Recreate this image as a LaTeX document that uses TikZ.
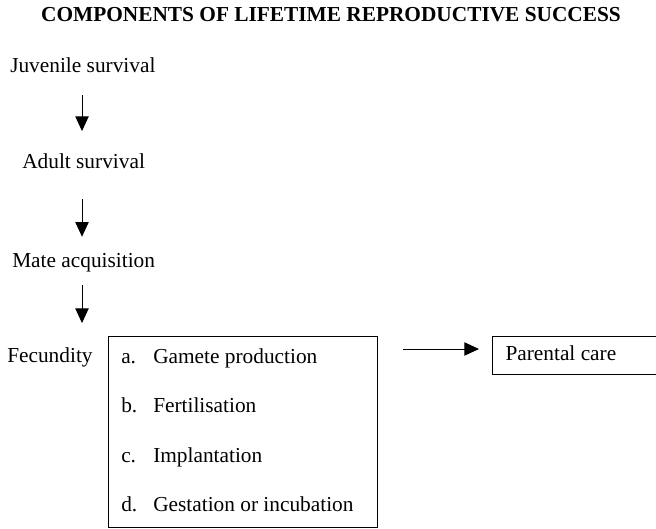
\documentclass[tikz,border=0pt]{standalone}
\usepackage{fontspec}
\setmainfont{Liberation Serif}
\usetikzlibrary{arrows.meta, positioning}

\begin{document}
\begin{tikzpicture}[
    x=0.75pt, y=-0.75pt,
    font=\fontsize{16}{19}\selectfont,
    label/.style={draw=none, inner sep=0pt, anchor=base west,
    text height=11pt, text depth=3pt},
    item/.style={draw=none, inner sep=0pt,
    text height=11pt, text depth=3pt},
    frame/.style={draw, line width=0.75pt, inner sep=0pt},
    arr/.style={-{Triangle[length=11pt, width=10pt]}, line width=0.75pt}
    ]
    \useasboundingbox (0,0) rectangle (656,528);

    \node[anchor=base, inner sep=0pt, font=\fontsize{16}{19}\selectfont\bfseries]
        (title) at (331,22) {COMPONENTS OF LIFETIME REPRODUCTIVE SUCCESS};

    \node[label]  (juv)   at (10,73)  {Juvenile survival};
    \node[label]  (adult) at (22,168) {Adult survival};
    \node[label]  (mate)  at (12,267) {Mate acquisition};
    \node[label]  (fec)   at (7,362)  {Fecundity};

    % box of fecundity parts
    \node[frame, anchor=north west, minimum width=201.75pt, minimum height=143.25pt]
        (fecbox) at (108,336) {};
    \node[item, anchor=base west] (gam)  at (121,363) {\makebox[24pt][l]{a.}Gamete production};
    \node[item]  (fert) [below=22.75pt of gam.south west, anchor=north west] {\makebox[24pt][l]{b.}Fertilisation};
    \node[item]  (impl) [below=22.75pt of fert.south west, anchor=north west] {\makebox[24pt][l]{c.}Implantation};
    \node[item]  (gest) [below=22.75pt of impl.south west, anchor=north west] {\makebox[24pt][l]{d.}Gestation or incubation};

    \node[frame, anchor=west, minimum height=28.5pt,
        inner xsep=9.75pt, text height=11pt, text depth=3pt]
        (care) at (492,355) {\makebox[140pt][l]{Parental care}};

    \coordinate (col) at (82,0);
    \draw[arr, shorten <=13.5pt, shorten >=16.5pt] (juv.south -| col) -- (adult.north -| col);
    \draw[arr, shorten <=20pt, shorten >=11.5pt] (adult.south -| col) -- (mate.north -| col);
    \draw[arr, shorten <=10.5pt, shorten >=18pt] (mate.south -| col) -- (fec.north -| col);
    \draw[arr, shorten <=18.75pt, shorten >=9.75pt]
        ([yshift=4.5pt]fecbox.east |- care.west) -- ([yshift=4.5pt]care.west);
\end{tikzpicture}
\end{document}
